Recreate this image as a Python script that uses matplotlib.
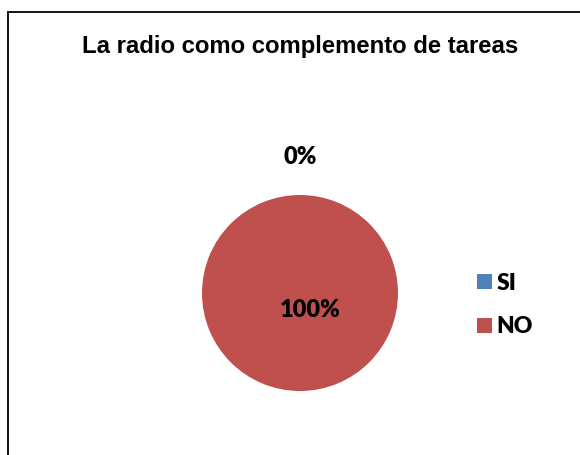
import numpy as np
import matplotlib.pyplot as plt
from matplotlib.patches import Rectangle

title = "La radio como complemento de tareas"
labels = ["SI", "NO"]
values = [0, 100]
colors = ["#4f81bd", "#c0504d"]
# how far from the pie centre each percent label sits (in radii)
label_r = [1.39, 0.17]

W, H = 580, 455
fig = plt.figure(figsize=(W / 100, H / 100), dpi=100)

# chart frame, cut off on the right and bottom like the original
fig.patches.append(Rectangle((8 / W, -0.5), 2.0, 0.5 + (H - 12) / H, transform=fig.transFigure,
                             fill=False, edgecolor="black", linewidth=1.3))

fig.text(300 / W, 1 - 47 / H, title, ha="center", va="center",
         fontsize=17.2, fontweight="bold", family="Liberation Sans")

# pie centre at (300, 293) px, radius ~98 px
cx, cy, r = 300, 293, 98
half = 1.5 * r
ax = fig.add_axes([(cx - half) / W, (H - cy - half) / H, 2 * half / W, 2 * half / H])
wedges, _ = ax.pie(values, colors=colors, startangle=90, counterclock=False,
                   wedgeprops=dict(linewidth=0))
ax.set_xlim(-1.5, 1.5)
ax.set_ylim(-1.5, 1.5)
ax.set_aspect("equal")
ax.axis("off")

total = sum(values)
for w, v, d in zip(wedges, values, label_r):
    mid = np.deg2rad((w.theta1 + w.theta2) / 2)
    x, y = d * np.cos(mid), d * np.sin(mid)
    if v == total:
        x += 0.1
    ax.text(x, y, f"{v / total:.0%}", ha="center", va="center",
            fontsize=17, fontweight="heavy", family="Lato")

fig.legend(wedges, labels, loc="center left", bbox_to_anchor=(456 / W, 1 - 305 / H),
           frameon=False, prop=dict(family="Lato", weight="heavy", size=16.5),
           handlelength=0.68, handleheight=0.68, handletextpad=0.2, labelspacing=1.0)

fig.savefig("out.png", dpi=100)
